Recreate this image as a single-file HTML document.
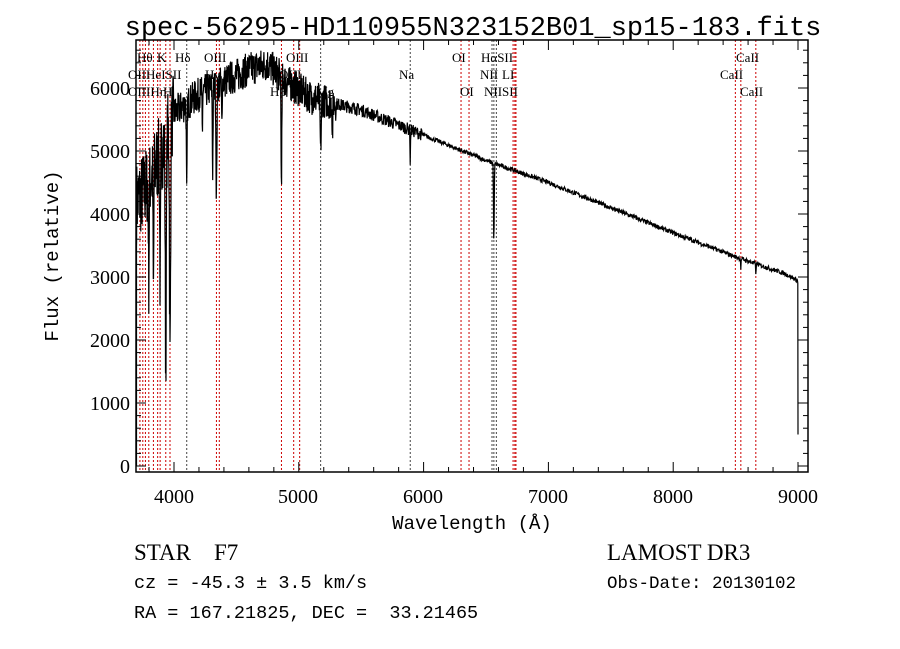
<!DOCTYPE html>
<html><head><meta charset="utf-8"><style>
html,body{margin:0;padding:0;background:#fff;}
svg{display:block;}
text{fill:#000;}
.s{font-family:"Liberation Serif",serif;}
.m{font-family:"Liberation Mono",monospace;}
.l{font-family:"Liberation Serif",serif;font-size:13px;}
</style></head><body>
<svg id="c" width="900" height="649" viewBox="0 0 900 649" xmlns="http://www.w3.org/2000/svg">
<rect width="900" height="649" fill="#fff"/>
<text x="473" y="35" text-anchor="middle" class="m" font-size="27">spec-56295-HD110955N323152B01_sp15-183.fits</text>
<g id="lines"></g>
<path id="spec" fill="none" stroke="#000" stroke-width="1.2"/>
<rect x="136" y="40" width="672" height="432" fill="none" stroke="#000" stroke-width="1.5"/>
<g id="ticks" stroke="#000" stroke-width="1"></g>
<g class="s" font-size="20" text-anchor="middle">
<text x="174" y="503">4000</text><text x="298" y="503">5000</text><text x="423" y="503">6000</text>
<text x="548" y="503">7000</text><text x="673" y="503">8000</text><text x="798" y="503">9000</text>
</g>
<g class="s" font-size="20" text-anchor="end">
<text x="130" y="473">0</text><text x="130" y="410">1000</text><text x="130" y="347">2000</text>
<text x="130" y="284">3000</text><text x="130" y="221">4000</text><text x="130" y="158">5000</text><text x="130" y="95">6000</text>
</g>
<text x="472" y="529" text-anchor="middle" class="m" font-size="19">Wavelength (Å)</text>
<text transform="translate(58,256) rotate(-90)" text-anchor="middle" class="m" font-size="19">Flux (relative)</text>
<g class="l">
<text x="137" y="62">Hθ</text><text x="157" y="62">K</text><text x="175" y="62">Hδ</text><text x="204" y="62">OIII</text><text x="286" y="62">OIII</text>
<text x="452" y="62">OI</text><text x="481" y="62">HαSII</text><text x="736" y="62">CaII</text>
<text x="128" y="79">OIIHeISII</text><text x="205" y="79">Hγ</text><text x="279" y="79">OIII</text><text x="399" y="79">Na</text>
<text x="480" y="79">NII</text><text x="502" y="79">LI</text><text x="720" y="79">CaII</text>
<text x="128" y="96">OIIIHη</text><text x="163" y="96">H</text><text x="270" y="96">Hβ</text><text x="316" y="96">Mg</text>
<text x="460" y="96">OI</text><text x="484" y="96">NIISII</text><text x="740" y="96">CaII</text>
</g>
<text x="134" y="560" class="s" font-size="23" xml:space="preserve">STAR    F7</text>
<text x="607" y="560" class="s" font-size="23">LAMOST DR3</text>
<text x="134" y="588" class="m" font-size="18.5">cz = -45.3 ± 3.5 km/s</text>
<text x="607" y="588" class="m" font-size="17.5">Obs-Date: 20130102</text>
<text x="134" y="618" class="m" font-size="18.5" xml:space="preserve">RA = 167.21825, DEC =  33.21465</text>
</svg>
<script>
var X=function(l){return 174+(l-4000)*0.1248;};
var Y=function(f){return 466-f*0.063;};
var ns="http://www.w3.org/2000/svg";
var lg=document.getElementById('lines');
var wl=[[3727,'r'],[3750,'r'],[3771,'r'],[3798,'r'],[3835,'r'],[3869,'r'],[3889,'r'],[3934,'r'],[3968,'r'],[4102,'k'],[4340,'r'],[4363,'r'],[4861,'r'],[4959,'r'],[5007,'r'],[5175,'k'],[5893,'k'],[6300,'r'],[6364,'r'],[6548,'k'],[6563,'k'],[6583,'k'],[6717,'r'],[6731,'r'],[6740,'r'],[8498,'r'],[8542,'r'],[8662,'r']];
wl.forEach(function(w){var l=document.createElementNS(ns,'line');var x=X(w[0]);
l.setAttribute('x1',x);l.setAttribute('x2',x);l.setAttribute('y1',40);l.setAttribute('y2',472);
l.setAttribute('stroke',w[1]=='r'?'#c00':'#444');l.setAttribute('stroke-width','1');l.setAttribute('stroke-dasharray','2,2');lg.appendChild(l);});
var tg=document.getElementById('ticks');
function ln(a,b,c,d){var l=document.createElementNS(ns,'line');l.setAttribute('x1',a);l.setAttribute('y1',b);l.setAttribute('x2',c);l.setAttribute('y2',d);tg.appendChild(l);}
for(var l=3800;l<=9000;l+=200){var x=X(l);var big=l%1000==0;ln(x,472,x,472-(big?10:5));ln(x,40,x,40+(big?10:5));}
for(var f=0;f<=6700;f+=200){var y=Y(f);var big=f%1000==0;ln(136,y,136+(big?10:5),y);ln(808,y,808-(big?10:5),y);}
var seed=7;function rnd(){seed=(seed*16807)%2147483647;return seed/2147483647;}
var cont=[[3700,4200],[3800,4500],[3900,5000],[4000,5600],[4200,5900],[4400,6100],[4600,6300],[4750,6380],[4900,6100],[5100,5850],[5500,5650],[6000,5250],[6500,4850],[7000,4500],[7500,4100],[8000,3700],[8500,3320],[8900,3050],[8990,2950]];
function C(l){for(var i=0;i<cont.length-1;i++){if(l<=cont[i+1][0]){var a=cont[i],b=cont[i+1];return a[1]+(b[1]-a[1])*(l-a[0])/(b[0]-a[0]);}}return 2950;}
var abs=[[3934,3600,6],[3968,3700,6],[3889,2000,5],[3835,2000,4],[3798,1500,4],[4102,1500,4],[4340,1800,5],[4310,1300,4],[4861,1900,4],[5175,800,6],[5270,500,4],[5893,500,3],[6563,1300,4],[8542,150,3],[8662,150,3],[4227,600,3],[4383,700,3]];
var d='M136.5,'+Y(0)+'L136.5,'+Y(3500);
for(var l=3700;l<=8995;l+=(l<5500?2:3)){
 var f=C(l);var noiseAmp=l<4000?1300:(l<5300?550:(l<6000?200:70));
 f+=(rnd()-0.5)*noiseAmp;
 abs.forEach(function(a){var dd=(l-a[0])/a[2];f-=a[1]*Math.exp(-dd*dd);});
 if(f<0)f=0;
 d+='L'+X(l).toFixed(1)+','+Y(f).toFixed(1);
}
d+='L'+X(8998).toFixed(1)+','+Y(2900)+'L'+X(9000).toFixed(1)+','+Y(500);
document.getElementById('spec').setAttribute('d',d);
</script>
</body></html>
